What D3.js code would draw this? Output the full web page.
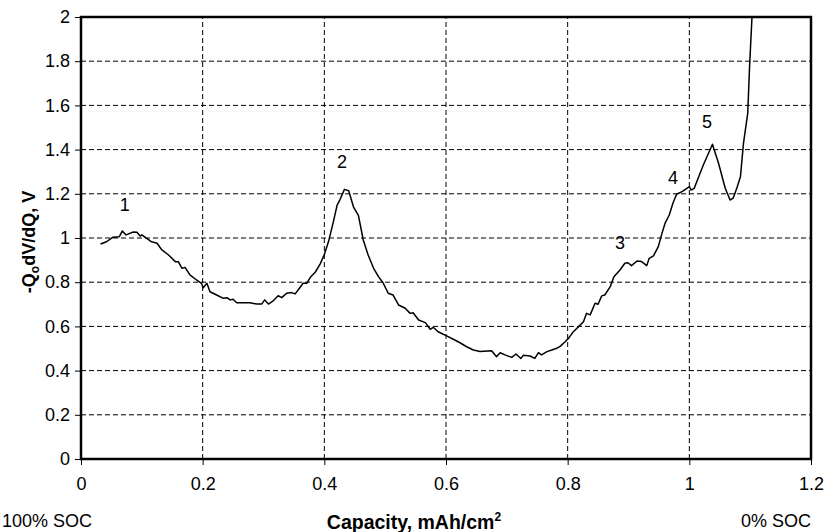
<!DOCTYPE html>
<html>
<head>
<meta charset="utf-8">
<script src="https://cdn.jsdelivr.net/npm/d3@7"></script>
<style>
  html, body { margin: 0; padding: 0; background: #fff; }
  svg { display: block; font-family: "Liberation Sans", Arial, sans-serif; }
</style>
</head>
<body>
<div id="chart"></div>
<script>
// Capacity (mAh/cm2)
const capacity = [
  0.032, 0.042, 0.052, 0.063, 0.068, 0.074, 0.086, 0.092, 0.097, 0.100,
  0.108, 0.116, 0.125, 0.133, 0.144, 0.155, 0.160, 0.166, 0.171, 0.179,
  0.190, 0.198, 0.201, 0.207, 0.212, 0.223, 0.234, 0.240, 0.245, 0.250,
  0.256, 0.278, 0.289, 0.297, 0.302, 0.308, 0.316, 0.324, 0.330, 0.338,
  0.346, 0.352, 0.357, 0.365, 0.371, 0.377, 0.385, 0.393, 0.400, 0.407,
  0.415, 0.421, 0.426, 0.433, 0.440, 0.448, 0.456, 0.464, 0.472, 0.481,
  0.489, 0.497, 0.505, 0.513, 0.522, 0.533, 0.541, 0.546, 0.555, 0.566,
  0.574, 0.579, 0.587, 0.601, 0.612, 0.623, 0.634, 0.645, 0.656, 0.675,
  0.683, 0.689, 0.697, 0.708, 0.715, 0.723, 0.727, 0.738, 0.746, 0.752,
  0.757, 0.766, 0.774, 0.782, 0.788, 0.795, 0.802, 0.809, 0.818, 0.826,
  0.831, 0.837, 0.845, 0.850, 0.856, 0.861, 0.870, 0.876, 0.886, 0.894,
  0.899, 0.905, 0.914, 0.921, 0.930, 0.934, 0.941, 0.949, 0.955, 0.960,
  0.967, 0.973, 0.979, 0.988, 0.996, 1.000, 1.003, 1.008, 1.023, 1.038,
  1.048, 1.059, 1.067, 1.072, 1.078, 1.084, 1.089, 1.096, 1.099, 1.103
];
// -Qo dV/dQ (V) at each capacity
const slope = [
  0.973, 0.983, 1.003, 1.006, 1.032, 1.014, 1.027, 1.026, 1.009, 1.014,
  0.998, 0.983, 0.976, 0.946, 0.923, 0.893, 0.893, 0.863, 0.867, 0.833,
  0.810, 0.795, 0.775, 0.795, 0.757, 0.742, 0.727, 0.730, 0.720, 0.723,
  0.707, 0.707, 0.701, 0.701, 0.720, 0.701, 0.716, 0.739, 0.730, 0.750,
  0.753, 0.747, 0.765, 0.795, 0.795, 0.822, 0.845, 0.882, 0.925, 0.985,
  1.075, 1.149, 1.175, 1.220, 1.214, 1.140, 1.102, 0.991, 0.923, 0.863,
  0.825, 0.795, 0.750, 0.742, 0.697, 0.682, 0.659, 0.662, 0.629, 0.617,
  0.587, 0.596, 0.576, 0.557, 0.542, 0.526, 0.508, 0.493, 0.486, 0.490,
  0.463, 0.481, 0.471, 0.460, 0.475, 0.455, 0.469, 0.466, 0.455, 0.481,
  0.471, 0.486, 0.493, 0.501, 0.511, 0.528, 0.548, 0.575, 0.599, 0.621,
  0.659, 0.652, 0.705, 0.700, 0.738, 0.742, 0.780, 0.825, 0.855, 0.886,
  0.888, 0.875, 0.896, 0.894, 0.875, 0.908, 0.919, 0.961, 1.021, 1.066,
  1.104, 1.157, 1.198, 1.210, 1.225, 1.232, 1.217, 1.225, 1.330, 1.424,
  1.338, 1.225, 1.172, 1.180, 1.225, 1.277, 1.428, 1.564, 1.775, 2.000
];

const xTicks = [0, 0.2, 0.4, 0.6, 0.8, 1, 1.2];
const yTicks = [0, 0.2, 0.4, 0.6, 0.8, 1, 1.2, 1.4, 1.6, 1.8, 2];

// numbered peaks (text, capacity, value)
const peakText = ["1", "2", "3", "4", "5"];
const peakX = [0.072, 0.429, 0.886, 0.973, 1.029];
const peakY = [1.149, 1.344, 0.977, 1.271, 1.525];

const W = 827, H = 532;
const M = { top: 17, right: 16, bottom: 73, left: 81 };

function drawChart() {
  const svg = d3.select("#chart").append("svg")
    .attr("width", W).attr("height", H);

  const x = d3.scaleLinear().domain([0, 1.2]).range([M.left, W - M.right]);
  const y = d3.scaleLinear().domain([0, 2]).range([H - M.bottom, M.top]);
  const fmt = d => String(+d.toFixed(1));

  // dashed grid
  svg.append("g").selectAll("line").data(xTicks.slice(1, -1)).join("line")
    .attr("x1", d => x(d)).attr("x2", d => x(d))
    .attr("y1", y(0)).attr("y2", y(2))
    .attr("stroke", "#000").attr("stroke-width", 1).attr("stroke-dasharray", "5,3");
  svg.append("g").selectAll("line").data(yTicks.slice(1, -1)).join("line")
    .attr("x1", x(0)).attr("x2", x(1.2))
    .attr("y1", d => y(d)).attr("y2", d => y(d))
    .attr("stroke", "#000").attr("stroke-width", 1).attr("stroke-dasharray", "5,3");

  // axes
  const xAxis = svg.append("g")
    .attr("transform", `translate(0,${y(0)})`)
    .call(d3.axisBottom(x).tickValues(xTicks).tickFormat(fmt).tickSize(6).tickPadding(12));
  const yAxis = svg.append("g")
    .attr("transform", `translate(${x(0)},0)`)
    .call(d3.axisLeft(y).tickValues(yTicks).tickFormat(fmt).tickSize(6).tickPadding(5));
  [xAxis, yAxis].forEach(g => {
    g.select(".domain").remove();
    g.selectAll("text").attr("font-size", 18).attr("fill", "#000")
      .attr("font-family", "Liberation Sans, Arial, sans-serif");
    g.selectAll(".tick line").attr("stroke", "#000").attr("stroke-width", 1);
  });

  // curve
  const pts = capacity.map((c, i) => [c, slope[i]]);
  svg.append("clipPath").attr("id", "plot-clip").append("rect")
    .attr("x", x(0)).attr("y", y(2)).attr("width", x(1.2) - x(0)).attr("height", y(0) - y(2));
  svg.append("path").datum(pts)
    .attr("clip-path", "url(#plot-clip)")
    .attr("fill", "none").attr("stroke", "#000").attr("stroke-width", 1.5)
    .attr("stroke-linejoin", "round")
    .attr("d", d3.line().x(d => x(d[0])).y(d => y(d[1])));

  // frame
  svg.append("rect")
    .attr("x", x(0)).attr("y", y(2)).attr("width", x(1.2) - x(0)).attr("height", y(0) - y(2))
    .attr("fill", "none").attr("stroke", "#000").attr("stroke-width", 2.5);

  // peak numbers
  svg.append("g").selectAll("text").data(peakText).join("text")
    .attr("x", (d, i) => x(peakX[i])).attr("y", (d, i) => y(peakY[i]))
    .attr("text-anchor", "middle").attr("dominant-baseline", "central")
    .attr("font-size", 18).text(d => d);

  // bottom texts
  svg.append("text").attr("x", 2).attr("y", 527).attr("font-size", 18).text("100% SOC");
  svg.append("text").attr("x", x(1.2)).attr("y", 527).attr("text-anchor", "end")
    .attr("font-size", 18).text("0% SOC");
  const xl = svg.append("text").attr("x", 414).attr("y", 529).attr("text-anchor", "middle")
    .attr("font-size", 19.5).attr("font-weight", "bold");
  xl.append("tspan").text("Capacity, mAh/cm");
  xl.append("tspan").attr("font-size", 12).attr("dy", -8).text("2");

  // y label
  const yl = svg.append("text")
    .attr("transform", `translate(35,242) rotate(-90)`)
    .attr("text-anchor", "middle").attr("font-size", 18).attr("font-weight", "bold");
  yl.append("tspan").text("-Q");
  yl.append("tspan").attr("font-size", 12).attr("dy", 4).text("o");
  yl.append("tspan").attr("dy", -4).text("dV/dQ, V");
}

document.addEventListener("DOMContentLoaded", drawChart);
</script>
</body>
</html>
